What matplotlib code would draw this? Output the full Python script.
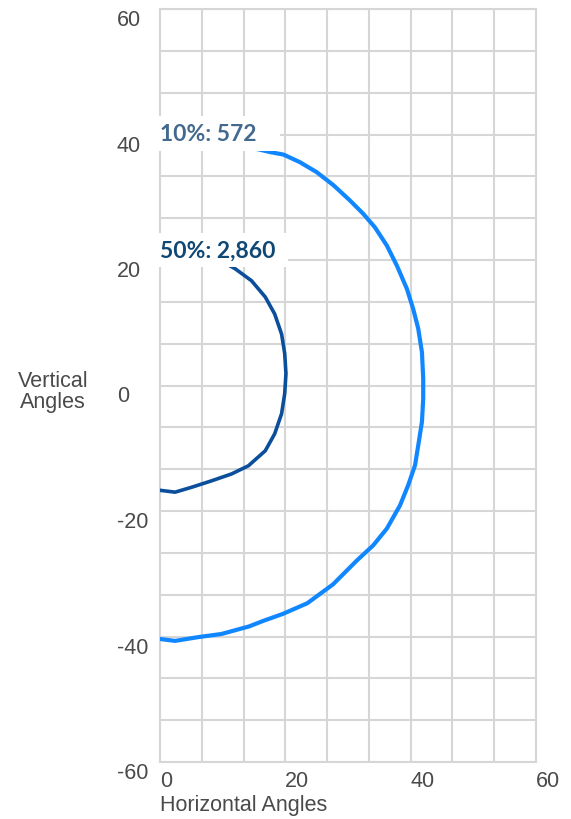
import matplotlib
matplotlib.use("Agg")
import matplotlib.pyplot as plt
import numpy as np

plt.rcParams["axes.unicode_minus"] = False

# Outer contour (10% of peak), read from top to bottom
outer_x = [0, 6, 12, 17.55, 19.7, 22.3, 25.0, 27.7, 30.3, 32.4, 34.3, 36.2, 37.8, 39.4, 40.4,
           41.2, 41.8, 42.0, 42.0, 41.8, 41.2, 40.7, 39.6, 38.3, 36.2, 34.0, 31.4, 27.6, 23.5,
           19.6, 16.5, 14.2, 9.8, 6.1, 2.4, 0]
outer_y = [39.8, 39.4, 38.5, 37.2, 36.8, 35.6, 34.0, 31.9, 29.5, 27.4, 25.2, 22.3, 19.1, 15.4, 12.2,
           9.1, 5.3, 1.1, -2.1, -5.8, -9.6, -12.7, -15.9, -19.1, -22.8, -25.5, -27.9, -31.7, -34.7,
           -36.4, -37.5, -38.4, -39.6, -40.1, -40.7, -40.4]

# Inner contour (50% of peak)
inner_x = [6, 9, 12.0, 14.6, 16.8, 18.3, 19.4, 19.9, 20.1, 19.9, 19.4, 18.3, 16.8, 14.1, 11.4,
           8.2, 5.1, 2.4, 0]
inner_y = [21.5, 20.3, 18.6, 16.7, 14.1, 11.4, 8.2, 5.1, 1.9, -1.3, -4.5, -7.7, -10.4, -12.8, -14.1,
           -15.2, -16.2, -17.0, -16.7]

labels = ["10%: 572", "50%: 2,860"]
label_pos = [(0, 40.1), (0, 21.6)]
label_colors = ["#44698f", "#0f4775"]

grid_col = "#d6d6d6"
tick_col = "#4a4a4a"

fig = plt.figure(figsize=(5.71, 8.2), dpi=100)
ax = fig.add_axes([160 / 571, 1 - 763 / 820, 376 / 571, 753 / 820])

ax.plot(outer_x, outer_y, color="#1187ff", lw=3.0, solid_capstyle="round",
        solid_joinstyle="round", zorder=3)
ax.plot(inner_x, inner_y, color="#0b4f9c", lw=2.6, solid_capstyle="round",
        solid_joinstyle="round", zorder=3)

ax.set_xlim(0, 60)
ax.set_ylim(-60, 60)

# grid lines every 20/3 degrees, labels every 20
ax.set_xticks(np.linspace(0, 60, 10), minor=True)
ax.set_yticks(np.linspace(-60, 60, 19), minor=True)
ax.set_xticks([0, 20, 40, 60])
ax.set_yticks([-60, -40, -20, 0, 20, 40, 60])
ax.grid(True, which="both", color=grid_col, lw=1.5)
ax.set_axisbelow(True)
ax.tick_params(which="both", length=0)
ax.tick_params(axis="x", pad=6, labelsize=15.5, labelcolor=tick_col)
ax.tick_params(axis="y", pad=31, labelsize=15.5, labelcolor=tick_col)
for t in ax.get_xticklabels():
    t.set_fontfamily("Liberation Sans")
    t.set_ha("left")
for t in ax.get_yticklabels():
    t.set_fontfamily("Liberation Sans")
    t.set_ha("left")
    t.set_va("top")

for s in ax.spines.values():
    s.set_color(grid_col)
    s.set_linewidth(1.5)

# contour labels on white boxes (boxes are roughly the same width)
for txt, (lx, ly), c in zip(labels, label_pos, label_colors):
    ax.text(lx, ly, txt.ljust(11, "\u00a0"), color=c, fontsize=16.5, fontweight="bold",
            fontfamily="Lato", ha="left", va="center", zorder=5,
            bbox=dict(boxstyle="square,pad=0.3", fc="white", ec="none"))

fig.text(160 / 571, 1 - 806 / 820, "Horizontal Angles", fontsize=15.5, color=tick_col,
         fontfamily="Liberation Sans", ha="left", va="center")
fig.text(53 / 571, 1 - 392 / 820, "Vertical\nAngles", fontsize=15.5, color=tick_col,
         fontfamily="Liberation Sans", ha="center", va="center", linespacing=1.0)

fig.savefig("out.png", dpi=100)
